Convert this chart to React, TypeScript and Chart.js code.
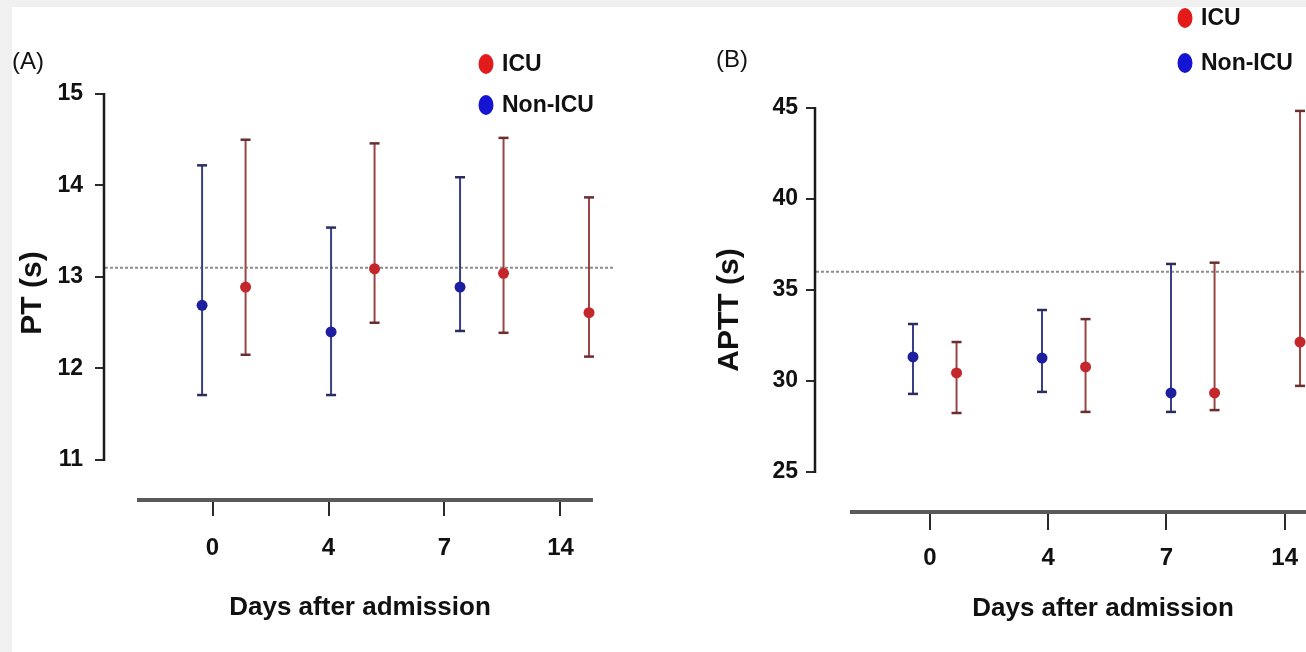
import React, { useEffect, useRef } from "react";
import { Chart, registerables } from "chart.js";

Chart.register(...registerables);

// ---------------- data ----------------
const dayLabels = ["0", "4", "7", "14"];
const groupNames = ["ICU", "Non-ICU"];

const ptTicks = [11, 12, 13, 14, 15];
const ptReference = 13.1;
const ptIcuMean = [12.89, 13.09, 13.04, 12.61];
const ptIcuLow = [12.15, 12.5, 12.39, 12.13];
const ptIcuHigh = [14.5, 14.46, 14.52, 13.87];
const ptNonIcuMean = [12.69, 12.4, 12.89, null];
const ptNonIcuLow = [11.71, 11.71, 12.41, null];
const ptNonIcuHigh = [14.22, 13.54, 14.09, null];

const apttTicks = [25, 30, 35, 40, 45];
const apttReference = 36.0;
const apttIcuMean = [30.44, 30.77, 29.34, 32.14];
const apttIcuLow = [28.24, 28.3, 28.4, 29.73];
const apttIcuHigh = [32.14, 33.4, 36.5, 44.84];
const apttNonIcuMean = [31.32, 31.26, 29.34, null];
const apttNonIcuLow = [29.29, 29.4, 28.3, null];
const apttNonIcuHigh = [33.13, 33.9, 36.43, null];

// ---------------- styles ----------------
const FONT = "'Liberation Sans', Arial, Helvetica, sans-serif";
const ICU_POINT = "#c3262b";
const NON_POINT = "#1d1f9e";
const ICU_BAR = "#9a4545";
const NON_BAR = "#383f85";
const ICU_CAP = "#6b2e2e";
const NON_CAP = "#2a2d5e";
const ICU_LEGEND = "#e31b1b";
const NON_LEGEND = "#1414d2";
const TEXT = "#111111";

const panels = [
  {
    key: "A",
    letter: "(A)",
    letterX: 12,
    letterY: 62,
    left: 0,
    width: 650,
    yTitle: "PT (s)",
    yTicks: ptTicks,
    reference: ptReference,
    icu: { mean: ptIcuMean, low: ptIcuLow, high: ptIcuHigh },
    non: { mean: ptNonIcuMean, low: ptNonIcuLow, high: ptNonIcuHigh },
    yMin: 10.563,
    yMax: 15.087,
    padTop: 86,
    padRight: 35,
    yAxisWidth: 105,
    xAxisHeight: 152,
    xMin: -0.927,
    xMax: 3.47,
    xLineStart: -0.651,
    xLineEnd: 3.28,
    slotStart: -0.09,
    slotSpacing: 1.112,
    slotGap: 0.375,
    yTitlePad: 15,
    yTickPad: 12,
    yTickLen: 10,
    xTickLen: 16,
    xTickPad: 18,
    xTitlePad: 29,
    legendX: 486,
    legendY: 64,
    legendGap: 41,
  },
  {
    key: "B",
    letter: "(B)",
    letterX: 66,
    letterY: 60,
    left: 650,
    width: 760,
    yTitle: "APTT (s)",
    yTicks: apttTicks,
    reference: apttReference,
    icu: { mean: apttIcuMean, low: apttIcuLow, high: apttIcuHigh },
    non: { mean: apttNonIcuMean, low: apttNonIcuLow, high: apttNonIcuHigh },
    yMin: 22.8,
    yMax: 45,
    padTop: 108,
    padRight: 20,
    yAxisWidth: 166,
    xAxisHeight: 140,
    xMin: -0.962,
    xMax: 3.89,
    xLineStart: -0.675,
    xLineEnd: 3.89,
    slotStart: -0.142,
    slotSpacing: 1.0905,
    slotGap: 0.368,
    yTitlePad: 62,
    yTickPad: 8,
    yTickLen: 10,
    xTickLen: 18,
    xTickPad: 14,
    xTitlePad: 28,
    legendX: 535,
    legendY: 18,
    legendGap: 45,
  },
];

// groups that have data on a day are laid out side by side: Non-ICU first, then ICU
function slotX(p, day, isIcu) {
  const nonPresent = p.non.mean[day] != null;
  const k = isIcu && nonPresent ? 1 : 0;
  return p.slotStart + day * p.slotSpacing + k * p.slotGap;
}

function errorDatasets(p, name, series, isIcu, pointColor, barColor, capColor) {
  const idx = series.mean.map((_, i) => i).filter((i) => series.mean[i] != null);
  const xs = idx.map((i) => slotX(p, i, isIcu));
  return [
    {
      type: "bar",
      label: name + " range",
      data: idx.map((i, k) => ({ x: xs[k], y: [series.low[i], series.high[i]] })),
      backgroundColor: barColor,
      borderWidth: 0,
      grouped: false,
      maxBarThickness: 2,
      order: 3,
    },
    {
      type: "scatter",
      label: name + " caps",
      data: [
        ...idx.map((i, k) => ({ x: xs[k], y: series.high[i] })),
        ...idx.map((i, k) => ({ x: xs[k], y: series.low[i] })),
      ],
      pointStyle: "line",
      pointRadius: 5,
      pointBorderWidth: 2.5,
      pointBorderColor: capColor,
      pointBackgroundColor: capColor,
      order: 2,
    },
    {
      type: "scatter",
      label: name,
      data: idx.map((i, k) => ({ x: xs[k], y: series.mean[i] })),
      pointStyle: "circle",
      pointRadius: 5.5,
      pointBackgroundColor: pointColor,
      pointBorderColor: pointColor,
      pointBorderWidth: 0,
      order: 1,
    },
  ];
}

function makeDecor(p) {
  return {
    id: "decor" + p.key,
    beforeDatasetsDraw(chart) {
      const { ctx, chartArea, scales } = chart;
      const y = scales.y.getPixelForValue(p.reference);
      ctx.save();
      ctx.strokeStyle = "#8d8d8d";
      ctx.lineWidth = 2;
      ctx.setLineDash([3, 2]);
      ctx.beginPath();
      ctx.moveTo(chartArea.left, y);
      ctx.lineTo(chartArea.right, y);
      ctx.stroke();
      ctx.restore();
    },
    afterDraw(chart) {
      const { ctx, chartArea, scales } = chart;
      ctx.save();
      // detached y axis line
      const yTop = scales.y.getPixelForValue(Math.max(...p.yTicks));
      const yBot = scales.y.getPixelForValue(Math.min(...p.yTicks));
      ctx.strokeStyle = "#1a1a1a";
      ctx.lineWidth = 2.5;
      ctx.beginPath();
      ctx.moveTo(chartArea.left - 1, yTop - 1);
      ctx.lineTo(chartArea.left - 1, yBot + 1);
      ctx.stroke();
      // detached x axis line
      const x0 = scales.x.getPixelForValue(p.xLineStart);
      const x1 = scales.x.getPixelForValue(p.xLineEnd);
      ctx.strokeStyle = "#5a5a5a";
      ctx.lineWidth = 4;
      ctx.beginPath();
      ctx.moveTo(x0, chartArea.bottom);
      ctx.lineTo(x1, chartArea.bottom);
      ctx.stroke();
      // legend
      const items = [
        { label: groupNames[0], color: ICU_LEGEND },
        { label: groupNames[1], color: NON_LEGEND },
      ];
      items.forEach((it, k) => {
        const cy = p.legendY + k * p.legendGap;
        ctx.fillStyle = it.color;
        ctx.beginPath();
        ctx.ellipse(p.legendX, cy, 7.5, 10, 0, 0, Math.PI * 2);
        ctx.fill();
        ctx.fillStyle = TEXT;
        ctx.font = `bold 23px ${FONT}`;
        ctx.textAlign = "left";
        ctx.textBaseline = "middle";
        ctx.fillText(it.label, p.legendX + 16, cy + 1);
      });
      // panel letter
      ctx.fillStyle = TEXT;
      ctx.font = `24px ${FONT}`;
      ctx.textAlign = "left";
      ctx.textBaseline = "middle";
      ctx.fillText(p.letter, p.letterX, p.letterY);
      ctx.restore();
    },
  };
}

function buildConfig(p) {
  const gridBase = {
    display: true,
    offset: false,
    drawOnChartArea: false,
    drawTicks: true,
    color: "#2a2a2a",
    lineWidth: 2,
  };
  return {
    type: "scatter",
    data: {
      datasets: [
        ...errorDatasets(p, groupNames[1], p.non, false, NON_POINT, NON_BAR, NON_CAP),
        ...errorDatasets(p, groupNames[0], p.icu, true, ICU_POINT, ICU_BAR, ICU_CAP),
      ],
    },
    options: {
      responsive: false,
      animation: false,
      events: [],
      layout: { padding: { left: 0, right: p.padRight, top: p.padTop, bottom: 0 } },
      plugins: {
        legend: { display: false },
        tooltip: { enabled: false },
        title: { display: false },
      },
      scales: {
        x: {
          type: "linear",
          position: "bottom",
          min: p.xMin,
          max: p.xMax,
          offset: false,
          afterBuildTicks: (s) => {
            s.ticks = dayLabels.map((_, i) => ({ value: i }));
          },
          afterFit: (s) => {
            s.height = p.xAxisHeight;
          },
          grid: { ...gridBase, tickLength: p.xTickLen },
          border: { display: false },
          ticks: {
            autoSkip: false,
            maxRotation: 0,
            minRotation: 0,
            padding: p.xTickPad,
            color: TEXT,
            font: { family: FONT, size: 24, weight: "bold" },
            callback: (v) => dayLabels[Math.round(Number(v))] ?? "",
          },
          title: {
            display: true,
            text: "Days after admission",
            color: TEXT,
            font: { family: FONT, size: 26, weight: "bold" },
            padding: { top: 0, bottom: p.xTitlePad },
          },
        },
        y: {
          type: "linear",
          min: p.yMin,
          max: p.yMax,
          beginAtZero: false,
          offset: false,
          afterBuildTicks: (s) => {
            s.ticks = p.yTicks.map((v) => ({ value: v }));
          },
          afterFit: (s) => {
            s.width = p.yAxisWidth;
          },
          grid: { ...gridBase, tickLength: p.yTickLen },
          border: { display: false },
          ticks: {
            padding: p.yTickPad,
            color: TEXT,
            font: { family: FONT, size: 23, weight: "bold" },
          },
          title: {
            display: true,
            text: p.yTitle,
            color: TEXT,
            font: { family: FONT, size: 30, weight: "bold" },
            padding: { top: p.yTitlePad, bottom: 0 },
          },
        },
      },
    },
    plugins: [makeDecor(p)],
  };
}

function Panel({ spec }) {
  const ref = useRef<HTMLCanvasElement>(null);
  useEffect(() => {
    const chart = new Chart(ref.current as HTMLCanvasElement, buildConfig(spec) as any);
    return () => chart.destroy();
  }, [spec]);
  return (
    <canvas
      ref={ref}
      width={spec.width}
      height={652}
      style={{ position: "absolute", left: spec.left, top: 0, width: spec.width, height: 652 }}
    />
  );
}

export default function App() {
  return (
    <div
      style={{
        position: "fixed",
        left: 0,
        top: 0,
        width: 1306,
        height: 652,
        overflow: "hidden",
        background: "#ffffff",
      }}
    >
      {panels.map((p) => (
        <Panel key={p.key} spec={p} />
      ))}
      <div style={{ position: "absolute", left: 0, top: 0, width: 1306, height: 7, background: "#f0f0f0" }} />
      <div style={{ position: "absolute", left: 0, top: 0, width: 12, height: 652, background: "#f0f0f0" }} />
    </div>
  );
}
